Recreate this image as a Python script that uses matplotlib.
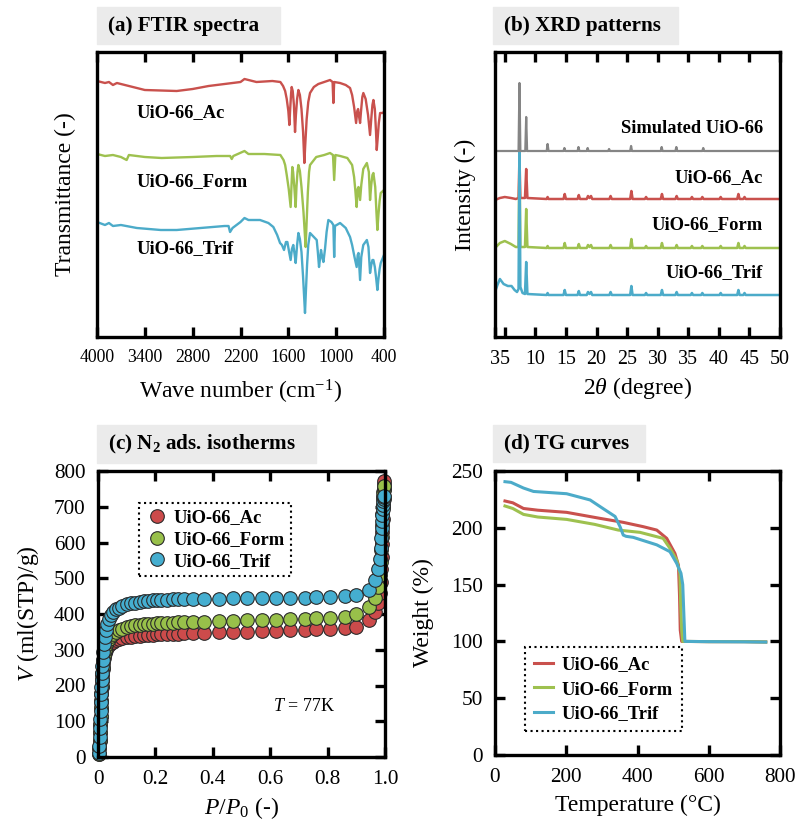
import numpy as np
import matplotlib
matplotlib.use('Agg')
import matplotlib.pyplot as plt
from matplotlib.patches import Rectangle

# ---------------------------------------------------------------- data
# (a) FTIR, wave number [cm-1] vs transmittance (arb., offset per sample)
ftir_ac_wn = [4000, 3900, 3850, 3800, 3750, 3700, 3600, 3400, 3000, 2800, 2600, 2400, 2200, 2150,
              2000, 1800, 1700, 1666, 1640, 1620, 1600, 1587, 1578, 1565, 1558, 1545, 1530, 1516,
              1505, 1490, 1474, 1455, 1435, 1415, 1399, 1388, 1370, 1350, 1328, 1280, 1224, 1150,
              1077, 1045, 1035, 1025, 951, 880, 826, 800, 775, 750, 735, 725, 712, 700, 688,
              672, 659, 630, 600, 575, 560, 545, 533, 515, 500, 491, 480, 465, 449, 420, 400]
ftir_ac_t = [256, 254, 255, 252, 254, 253, 251, 247, 246, 248, 251, 253, 255, 258,
             255, 256, 255, 251, 246, 238, 226, 212, 226, 244, 250, 246, 232, 205,
             222, 238, 247, 242, 228, 205, 174, 192, 218, 235, 244, 250, 253, 255,
             257, 255, 234, 255, 254, 252, 249, 242, 230, 214, 226, 228, 220, 214, 226,
             240, 244, 238, 222, 202, 218, 232, 237, 228, 205, 187, 198, 214, 224, 224, 225]

ftir_form_wn = [4000, 3900, 3800, 3700, 3628, 3600, 3400, 3190, 2800, 2500, 2330, 2310, 2290, 2150,
                2100, 1900, 1700, 1660, 1640, 1620, 1595, 1571, 1560, 1550, 1540, 1525, 1508, 1498,
                1485, 1474, 1455, 1435, 1410, 1383, 1372, 1355, 1340, 1328, 1250, 1150, 1077,
                1040, 1025, 1010, 950, 860, 800, 775, 760, 743, 730, 720, 700, 685, 660, 615,
                590, 575, 560, 545, 533, 510, 495, 483, 470, 455, 441, 400]
ftir_form_t = [183, 181, 182, 180, 177, 182, 180, 179, 180, 181, 181, 178, 181, 186,
               183, 183, 182, 177, 172, 162, 148, 130, 152, 170, 165, 150, 130, 150,
               165, 172, 166, 150, 125, 90, 112, 145, 165, 172, 180, 182, 184,
               182, 157, 182, 181, 179, 172, 160, 147, 130, 148, 150, 137, 152, 168, 174,
               165, 137, 152, 162, 164, 150, 125, 107, 122, 136, 144, 147]

ftir_trif_wn = [4000, 3900, 3850, 3800, 3700, 3500, 3200, 3000, 2700, 2400, 2350, 2331, 2300, 2200,
                2150, 2100, 1955, 1850, 1788, 1740, 1704, 1680, 1654, 1630, 1612, 1590, 1571, 1555,
                1538, 1520, 1508, 1490, 1474, 1455, 1435, 1415, 1391, 1380, 1365, 1350, 1328, 1280,
                1244, 1230, 1215, 1200, 1190, 1175, 1160, 1140, 1120, 1098, 1060, 1035, 1025, 1015,
                951, 880, 826, 800, 770, 743, 730, 720, 700, 685, 660, 615, 595, 575, 560, 545,
                533, 515, 500, 483, 470, 455, 441, 400]
ftir_trif_t = [115, 112, 114, 111, 112, 109, 107, 107, 109, 111, 111, 105, 109, 115,
               119, 117, 117, 114, 110, 102, 94, 92, 87, 95, 95, 85, 77, 88,
               92, 82, 74, 92, 104, 98, 85, 60, 24, 45, 72, 92, 104, 100,
               97, 85, 70, 80, 87, 80, 75, 88, 105, 117, 115, 112, 80, 111,
               114, 109, 100, 92, 80, 70, 82, 84, 57, 80, 92, 97, 90, 64, 72, 77,
               77, 70, 60, 47, 58, 68, 74, 82]

# (b) XRD, 2theta [deg] vs intensity (arb., offset per sample)
xrd_sim_x = [3.4, 7.25, 7.4, 7.55, 8.35, 8.5, 8.65, 11.85, 12.0, 12.15, 14.6, 14.75, 14.9,
             16.9, 17.05, 17.2, 18.4, 18.55, 18.7, 21.9, 22.05, 22.2, 25.5, 25.65, 25.8,
             30.5, 30.65, 30.8, 32.9, 33.05, 33.2, 37.3, 37.45, 37.6, 50.0]
xrd_sim_y = [186, 186, 254, 186, 186, 220, 186, 186, 193, 186, 186, 189, 186,
             186, 190, 186, 186, 189, 186, 186, 188, 186, 186, 191, 186,
             186, 190, 186, 186, 190, 186, 186, 189, 186, 186]

xrd_head_x = [3.4, 4.2, 5.0, 6.0, 6.8, 7.25, 7.4, 7.55, 8.3, 8.5, 8.7]
xrd_trif_head_x = [3.4, 3.8, 4.2, 4.8, 5.5, 6.1, 6.6, 7.0, 7.25, 7.4, 7.55, 7.9, 8.3, 8.5, 8.7]
xrd_tail_x = [11.85, 12.0, 12.15, 14.6, 14.8, 15.0, 16.9, 17.1, 17.3,
              18.4, 18.6, 18.85, 19.1, 19.3, 22.1, 22.3, 22.5, 25.5, 25.7, 25.9,
              27.9, 28.1, 28.3, 30.5, 30.7, 30.9, 32.9, 33.1, 33.3, 35.4, 35.6, 35.8,
              37.1, 37.3, 37.5, 40.1, 40.3, 40.5, 43.0, 43.2, 43.4, 44.0, 44.2, 44.4, 50.0]

xrd_ac_y = [137, 139, 140, 139, 138, 139, 180, 139, 139, 168, 139,
            138, 140, 138, 138, 143, 138, 138, 142, 138,
            138, 141, 139, 141, 138, 138, 141, 138, 138, 146, 138,
            138, 140, 138, 138, 143, 138, 138, 141, 138, 138, 140, 138,
            138, 140, 138, 138, 140, 138, 138, 143, 138, 138, 140, 138, 138]
xrd_form_y = [89, 94, 96, 93, 90, 90, 180, 90, 90, 128, 90,
              89, 91, 89, 89, 94, 89, 89, 93, 89,
              89, 92, 90, 92, 89, 89, 92, 89, 89, 98, 89,
              89, 91, 89, 89, 94, 89, 89, 92, 89, 89, 91, 89,
              89, 91, 89, 89, 91, 89, 89, 94, 89, 89, 91, 89, 89]
xrd_trif_y = [45, 52, 58, 53, 51, 51, 47, 45, 48, 186, 50, 44, 43, 75, 43,
              42, 44, 42, 42, 47, 42, 42, 46, 42,
              42, 45, 43, 45, 42, 42, 45, 42, 42, 51, 42,
              42, 44, 42, 42, 47, 42, 42, 45, 42, 42, 44, 42,
              42, 44, 42, 42, 44, 42, 42, 47, 42, 42, 44, 42, 42]

# (c) N2 adsorption isotherms at 77 K
iso_p = [0.004, 0.005, 0.006, 0.007, 0.008, 0.009, 0.010, 0.011, 0.012, 0.013, 0.014, 0.015,
         0.016, 0.018, 0.020, 0.023, 0.027, 0.032, 0.038, 0.045, 0.053, 0.062, 0.072, 0.085,
         0.10, 0.115, 0.13, 0.145, 0.16, 0.175, 0.19, 0.205, 0.22, 0.24, 0.26, 0.28, 0.30,
         0.33, 0.37, 0.42, 0.47, 0.52, 0.57, 0.62, 0.67, 0.72, 0.76, 0.81, 0.86, 0.90,
         0.945, 0.965, 0.977, 0.982, 0.985, 0.987, 0.989, 0.990, 0.991, 0.992, 0.993,
         0.994, 0.995, 0.996, 0.997]
iso_ac = [8, 25, 45, 68, 90, 112, 135, 155, 175, 195, 213, 230,
          245, 262, 277, 290, 300, 308, 314, 319, 323, 326, 329, 332,
          335, 337, 338, 339, 340, 341, 342, 343, 343, 344, 345, 345, 346,
          347, 348, 349, 350, 351, 352, 353, 354, 355, 357, 358, 361, 364,
          383, 406, 430, 460, 490, 525, 560, 595, 630, 665, 700,
          730, 750, 765, 772]
iso_form = [8, 26, 48, 70, 93, 116, 140, 160, 180, 200, 218, 236,
            252, 270, 286, 300, 312, 322, 331, 338, 344, 349, 354, 359,
            363, 366, 368, 370, 371, 372, 373, 374, 375, 375, 376, 377, 377,
            378, 379, 380, 381, 382, 383, 384, 385, 386, 388, 390, 393, 400,
            420, 445, 475, 510, 545, 580, 615, 650, 680, 705, 725,
            740, 748, 754, 758]
iso_trif = [10, 30, 55, 80, 105, 130, 155, 175, 195, 215, 235, 255,
            272, 295, 315, 335, 355, 372, 387, 398, 406, 413, 418, 423,
            427, 430, 432, 434, 436, 437, 438, 439, 440, 440, 441, 441, 442,
            442, 443, 443, 444, 444, 444, 445, 445, 446, 447, 448, 450, 453,
            467, 495, 525, 555, 585, 612, 640, 660, 678, 693, 705,
            715, 722, 727, 730]

# (d) TG curves, temperature [C] vs weight [%]
tg_ac_t = [28, 50, 80, 120, 201, 295, 360, 416, 454, 482, 505, 515, 518, 520, 524, 600, 700, 760]
tg_ac_w = [223.6, 222, 217, 215.5, 213.6, 208.3, 204.8, 201, 198, 190.7, 177.5, 167, 140, 110, 100, 99.8, 99.8, 99.5]
tg_form_t = [28, 50, 80, 120, 201, 280, 346, 407, 472, 491, 510, 519, 521, 524, 527, 600, 700, 760]
tg_form_w = [219.2, 217, 211.8, 209.5, 207.4, 203, 198, 196, 190.7, 182, 171.6, 160, 135, 110, 100, 99.8, 99.8, 99.5]
tg_trif_t = [28, 45, 80, 108, 201, 267, 303, 337, 351, 360, 368, 388, 454, 491, 510, 522,
             527, 530, 533, 600, 700, 760]
tg_trif_w = [240.6, 240, 235, 232, 230, 224.5, 217, 210, 201, 193.6, 192.5, 191.6, 185, 179, 168.7, 160,
             150, 125, 100, 99.8, 99.6, 99.4]

samples = ['UiO-66_Ac', 'UiO-66_Form', 'UiO-66_Trif']
colors = ['#c9514d', '#9ec14f', '#4cabc9']
marker_colors = ['#cc4b4b', '#98c04a', '#45aed0']


def main():
    plt.rcParams['font.family'] = 'Liberation Serif'
    plt.rcParams['mathtext.fontset'] = 'custom'
    plt.rcParams['mathtext.rm'] = 'Liberation Serif'
    plt.rcParams['mathtext.it'] = 'Liberation Serif:italic'
    plt.rcParams['mathtext.bf'] = 'Liberation Serif:bold'

    W, H = 801, 824
    fig = plt.figure(figsize=(W / 100, H / 100), dpi=100)

    def rect(x0, y0, x1, y1):
        return [x0 / W, 1 - y1 / H, (x1 - x0) / W, (y1 - y0) / H]

    def panel_title(x0, y0, x1, y1, text):
        fig.patches.append(Rectangle((x0 / W, 1 - y1 / H), (x1 - x0) / W, (y1 - y0) / H,
                                     transform=fig.transFigure, color='#ebebeb', zorder=0))
        fig.text((x0 + 11) / W, 1 - (y0 + y1) / 2 / H, text, fontsize=15.2, fontweight='bold',
                 ha='left', va='center')

    def style(ax, yticks=True):
        for s in ax.spines.values():
            s.set_linewidth(2.4)
        ax.tick_params(direction='in', length=7, width=2.4, top=True, right=yticks, left=yticks,
                       bottom=True, labelleft=yticks, pad=9)

    # ---- (a) FTIR
    ax = fig.add_axes(rect(97, 52, 384, 337))
    ax.plot(ftir_ac_wn, ftir_ac_t, color=colors[0], lw=1.7)
    ax.plot(ftir_form_wn, ftir_form_t, color=colors[1], lw=1.7)
    ax.plot(ftir_trif_wn, ftir_trif_t, color=colors[2], lw=1.7)
    ax.set_xlim(4000, 400)
    ax.set_ylim(0, 285)
    ax.set_xticks([4000, 3400, 2800, 2200, 1600, 1000, 400])
    ax.set_yticks([])
    style(ax, yticks=False)
    ax.tick_params(axis='x', labelsize=12.8)
    for lab, yy in zip(samples, [0.786, 0.544, 0.312]):
        ax.text(0.139, yy, lab, transform=ax.transAxes, fontsize=13.3, fontweight='bold',
                ha='left', va='center')
    ax.set_ylabel('Transmittance (-)', fontsize=17, labelpad=15)
    ax.set_xlabel(r'Wave number (cm$^{-1}$)', fontsize=17, labelpad=8)
    panel_title(97, 7, 280, 44, '(a) FTIR spectra')

    # ---- (b) XRD
    ax = fig.add_axes(rect(495, 52, 780, 337))
    ax.plot(xrd_head_x + xrd_tail_x, xrd_ac_y, color=colors[0], lw=1.8)
    ax.plot(xrd_head_x + xrd_tail_x, xrd_form_y, color=colors[1], lw=1.8)
    ax.plot(xrd_trif_head_x + xrd_tail_x, xrd_trif_y, color=colors[2], lw=1.8)
    ax.plot(xrd_sim_x, xrd_sim_y, color='#858585', lw=1.6)
    ax.set_xlim(3.4, 50)
    ax.set_ylim(0, 285)
    ax.set_xticks([3.4, 5, 10, 15, 20, 25, 30, 35, 40, 45, 50])
    ax.set_xticklabels(['3', '5', '10', '15', '20', '25', '30', '35', '40', '45', '50'])
    ax.set_yticks([])
    style(ax, yticks=False)
    ax.tick_params(axis='x', labelsize=14.4)
    for lab, yy in zip(['Simulated UiO-66'] + samples, [0.733, 0.561, 0.393, 0.225]):
        ax.text(0.94, yy, lab, transform=ax.transAxes, fontsize=13.3, fontweight='bold',
                ha='right', va='center')
    ax.set_ylabel('Intensity (-)', fontsize=17, labelpad=14)
    ax.set_xlabel(r'2$\theta$ (degree)', fontsize=17, labelpad=5)
    panel_title(493, 7, 678, 44, '(b) XRD patterns')

    # ---- (c) N2 isotherms
    ax = fig.add_axes(rect(98, 471, 385, 757))
    for v, c, lab in zip([iso_ac, iso_form, iso_trif], marker_colors, samples):
        ax.plot(iso_p, v, 'o', ms=9.8, mfc=c, mec='#2a2a2a', mew=0.8, label=lab, clip_on=False)
    ax.set_xlim(0, 1.0)
    ax.set_ylim(0, 800)
    ax.set_xticks([0, 0.2, 0.4, 0.6, 0.8, 1.0])
    ax.set_xticklabels(['0', '0.2', '0.4', '0.6', '0.8', '1.0'])
    ax.set_yticks(np.arange(0, 801, 100))
    style(ax)
    ax.tick_params(labelsize=15.3)
    leg = ax.legend(loc='upper left', bbox_to_anchor=(0.143, 0.888), borderaxespad=0,
                    prop={'weight': 'bold', 'size': 13.3}, fancybox=False, edgecolor='black',
                    handletextpad=0.3, labelspacing=0.25, borderpad=0.35, handlelength=1.2,
                    framealpha=1)
    leg.get_frame().set_linestyle(':')
    leg.get_frame().set_linewidth(1.5)
    ax.text(0.61, 0.175, r'$T$ = 77K', transform=ax.transAxes, fontsize=13, ha='left', va='center')
    ax.set_ylabel(r'$V$ (ml(STP)/g)', fontsize=17, labelpad=9)
    ax.set_xlabel(r'$P/P_{\mathrm{0}}$ (-)', fontsize=17, labelpad=5)
    panel_title(97, 425, 316, 463, r'(c) N$_{\mathbf{2}}$ ads. isotherms')

    # ---- (d) TG
    ax = fig.add_axes(rect(495, 471, 780, 755))
    ax.plot(tg_ac_t, tg_ac_w, color=colors[0], lw=2.2, label=samples[0])
    ax.plot(tg_form_t, tg_form_w, color=colors[1], lw=2.2, label=samples[1])
    ax.plot(tg_trif_t, tg_trif_w, color=colors[2], lw=2.2, label=samples[2])
    ax.set_xlim(0, 800)
    ax.set_ylim(0, 250)
    ax.set_xticks([0, 200, 400, 600, 800])
    ax.set_yticks([0, 50, 100, 150, 200, 250])
    style(ax)
    ax.tick_params(labelsize=15.3)
    leg = ax.legend(loc='upper left', bbox_to_anchor=(0.105, 0.380), borderaxespad=0,
                    prop={'weight': 'bold', 'size': 13.3}, fancybox=False, edgecolor='black',
                    handletextpad=0.5, labelspacing=0.4, borderpad=0.5, handlelength=1.0,
                    framealpha=1)
    leg.get_frame().set_linestyle(':')
    leg.get_frame().set_linewidth(1.5)
    ax.set_ylabel('Weight (%)', fontsize=17, labelpad=12)
    ax.set_xlabel('Temperature (°C)', fontsize=17, labelpad=6)
    panel_title(493, 425, 645, 462, '(d) TG curves')

    fig.savefig('out.png', dpi=100)


if __name__ == '__main__':
    main()
